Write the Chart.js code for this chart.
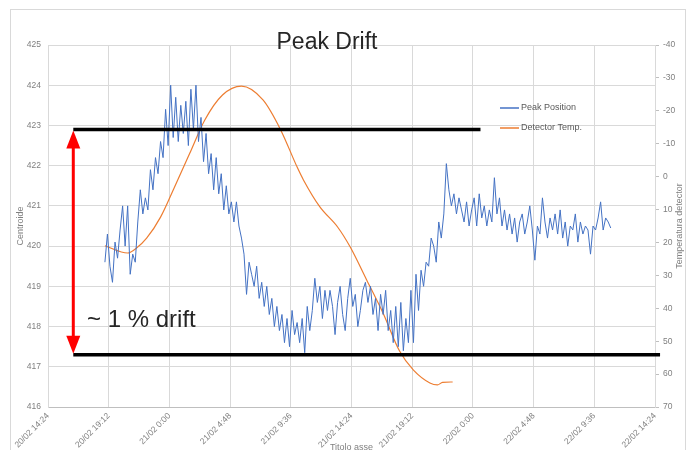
<!DOCTYPE html>
<html>
<head>
<meta charset="utf-8">
<script src="https://cdn.jsdelivr.net/npm/chart.js@4.4.1/dist/chart.umd.min.js"></script>
<style>
    body { margin: 0; background: #fff; }
    #wrap { width: 691px; height: 450px; }
</style>
</head>
<body>
<div id="wrap"><canvas id="chart" width="691" height="450"></canvas></div>
<script>
// Time axis is in hours from 20/02 0:00
const xTickHours = [14.4, 19.2, 24, 28.8, 33.6, 38.4, 43.2, 48, 52.8, 57.6, 62.4];
const leftTicks = [416, 417, 418, 419, 420, 421, 422, 423, 424, 425];
const rightTicks = [-40, -30, -20, -10, 0, 10, 20, 30, 40, 50, 60, 70];

// Peak position, one reading every 12 minutes from 20/02 18:54
const peakStartHour = 18.9;
const peakStepHours = 0.2;
const peakValues = [
    419.6, 420.3, 419.5, 419.1, 420.1, 419.7, 420.4, 421.0, 420.0, 421.0,
    419.3, 419.8, 419.6, 420.6, 421.4, 420.8, 421.2, 420.9, 421.9, 421.4,
    422.2, 421.8, 422.6, 422.2, 423.4, 422.5, 424.0, 422.7, 423.7, 422.6,
    423.5, 422.8, 423.6, 422.5, 423.9, 422.9, 424.0, 422.6, 423.2, 422.1,
    422.8, 421.8, 422.3, 421.4, 422.2, 421.3, 421.8, 420.9, 421.5, 420.8,
    421.1, 420.6, 421.1, 420.5, 420.2, 419.8, 418.8, 419.6, 419.3, 419.0,
    419.5, 418.7, 419.1, 418.5, 419.0, 418.3, 418.7, 418.0, 418.5, 417.9,
    418.3, 417.6, 418.2, 417.5, 418.4, 417.8, 418.1, 417.6, 418.2, 417.35,
    418.5, 417.9, 418.4, 419.2, 418.6, 419.0, 418.2, 418.9, 418.4, 418.9,
    418.5, 417.8, 418.6, 419.0, 418.3, 417.9, 418.7, 419.2, 418.5, 418.8,
    418.0, 418.4, 418.9, 419.1, 418.6, 419.0, 418.3, 418.7, 417.9, 418.8,
    418.3, 418.9, 417.9, 418.4, 417.6, 418.5, 417.5, 418.6, 417.4, 418.2,
    417.6, 418.9, 417.6, 419.3, 418.4, 419.4, 419.0, 419.6, 419.5, 420.2,
    420.0, 419.6, 420.6, 420.2, 420.8, 422.05, 421.4, 421.0, 421.3, 420.8,
    421.2, 420.9, 420.6, 421.1, 420.5, 420.9, 421.2, 420.5, 421.3, 420.7,
    421.0, 420.5, 420.9, 420.6, 421.7, 420.8, 421.2, 420.5, 420.9, 420.4,
    420.8, 420.3, 420.7, 420.1, 420.6, 420.8, 420.3, 420.6, 421.0, 420.4,
    419.65, 420.5, 420.3, 421.2, 420.6, 420.2, 420.7, 420.4, 420.8, 420.3,
    420.9, 420.2, 420.6, 420.0, 420.5, 420.4, 420.8, 420.1, 420.6, 420.3,
    420.5, 420.4, 419.8, 420.5, 420.4, 420.7, 421.1, 420.4, 420.7, 420.6,
    420.45
];

// Detector temperature (right axis)
const tempHours = [18.9, 20.7, 21.4, 22.2, 23.3, 24.4, 25.6, 26.8, 28.2, 29.7, 31.4, 32.8, 34.1,
    34.6, 35.9, 37.3, 38.3, 39.6, 40.9, 42.2, 43.3, 44.6, 45.2, 45.6, 46.4];
const tempValues = [21, 23.2, 21.7, 18.7, 12.3, 3.2, -7, -17.2, -24.8, -27.5, -23.3, -14.2, -2.9,
    1.0, 9.2, 15.3, 21.4, 31.4, 41.5, 53.0, 58.8, 62.7, 63.3, 62.5, 62.4];

// Drift markers drawn over the chart
const driftRange = [417.3, 422.9];
const driftStartHour = 16.4;
const driftTopEndHour = 48.6;
const driftBottomEndHour = 62.8;

const axisColor = '#7f7f7f';
const axisFont = { family: 'Liberation Sans', size: 8.5 };

function formatHour(v) {
    const dayOffset = Math.floor(v / 24 + 1e-6);
    const mins = Math.round((v - dayOffset * 24) * 60);
    const h = Math.floor(mins / 60);
    const m = mins % 60;
    return (20 + dayOffset) + '/02 ' + h + ':' + (m < 10 ? '0' + m : m);
}

const peakData = peakValues.map((v, i) => ({ x: peakStartHour + i * peakStepHours, y: v }));
const tempData = tempValues.map((v, i) => ({ x: tempHours[i], y: v }));

const decorations = {
    id: 'decorations',
    beforeDraw(chart) {
        const ctx = chart.ctx;
        ctx.save();
        ctx.fillStyle = '#fff';
        ctx.fillRect(0, 0, chart.width, chart.height);
        ctx.strokeStyle = '#d9d9d9';
        ctx.lineWidth = 1;
        ctx.strokeRect(10.5, 9.5, 675, 460);
        ctx.restore();
    },
    afterDraw(chart) {
        const { ctx, scales } = chart;
        const area = chart.chartArea;
        ctx.save();

        // Title
        ctx.fillStyle = '#262626';
        ctx.font = '23px "Liberation Sans"';
        ctx.textAlign = 'center';
        ctx.textBaseline = 'alphabetic';
        ctx.fillText('Peak Drift', 327, 49);

        // Right axis title, reads bottom to top like the left one
        ctx.save();
        ctx.translate(680, (area.top + area.bottom) / 2);
        ctx.rotate(-Math.PI / 2);
        ctx.font = '9px "Liberation Sans"';
        ctx.fillStyle = axisColor;
        ctx.textBaseline = 'middle';
        ctx.fillText('Temperatura detector', 0, 0);
        ctx.restore();

        // Legend
        ctx.font = '9px "Liberation Sans"';
        ctx.textAlign = 'left';
        ctx.textBaseline = 'middle';
        chart.data.datasets.forEach((ds, i) => {
            const ly = 108 + i * 20;
            ctx.strokeStyle = ds.borderColor;
            ctx.lineWidth = 1.5;
            ctx.beginPath();
            ctx.moveTo(500, ly);
            ctx.lineTo(519, ly);
            ctx.stroke();
            ctx.fillStyle = '#595959';
            ctx.fillText(ds.label, 521, ly);
        });

        // Drift lines
        const x0 = scales.x.getPixelForValue(driftStartHour);
        const yTop = scales.y.getPixelForValue(driftRange[1]);
        const yBot = scales.y.getPixelForValue(driftRange[0]);
        ctx.strokeStyle = '#000';
        ctx.lineWidth = 3.5;
        ctx.beginPath();
        ctx.moveTo(x0, yTop);
        ctx.lineTo(scales.x.getPixelForValue(driftTopEndHour), yTop);
        ctx.moveTo(x0, yBot);
        ctx.lineTo(scales.x.getPixelForValue(driftBottomEndHour), yBot);
        ctx.stroke();

        // Red double arrow
        const head = 18;
        ctx.strokeStyle = '#ff0000';
        ctx.fillStyle = '#ff0000';
        ctx.lineWidth = 3;
        ctx.beginPath();
        ctx.moveTo(x0, yTop + head);
        ctx.lineTo(x0, yBot - head);
        ctx.stroke();
        ctx.beginPath();
        ctx.moveTo(x0, yTop + 1);
        ctx.lineTo(x0 - 7, yTop + head + 1);
        ctx.lineTo(x0 + 7, yTop + head + 1);
        ctx.closePath();
        ctx.fill();
        ctx.beginPath();
        ctx.moveTo(x0, yBot - 1);
        ctx.lineTo(x0 - 7, yBot - head - 1);
        ctx.lineTo(x0 + 7, yBot - head - 1);
        ctx.closePath();
        ctx.fill();

        // Drift label
        ctx.fillStyle = '#262626';
        ctx.font = '24px "Liberation Sans"';
        ctx.textAlign = 'left';
        ctx.textBaseline = 'alphabetic';
        ctx.fillText('~ 1 % drift', 87, 327);

        ctx.restore();
    }
};

new Chart(document.getElementById('chart'), {
    type: 'line',
    data: {
        datasets: [{
            label: 'Peak Position',
            data: peakData,
            yAxisID: 'y',
            borderColor: '#4472c4',
            borderWidth: 1,
            pointRadius: 0,
            tension: 0
        }, {
            label: 'Detector Temp.',
            data: tempData,
            yAxisID: 'y2',
            borderColor: '#ed7d31',
            borderWidth: 1.2,
            pointRadius: 0,
            cubicInterpolationMode: 'monotone'
        }]
    },
    options: {
        responsive: false,
        animation: false,
        layout: { padding: { top: 45, left: 0, right: 0, bottom: 0 } },
        plugins: {
            legend: { display: false },
            tooltip: { enabled: false }
        },
        scales: {
            x: {
                type: 'linear',
                min: xTickHours[0],
                max: xTickHours[xTickHours.length - 1],
                afterBuildTicks: s => { s.ticks = xTickHours.map(v => ({ value: v })); },
                afterFit: s => { s.height = 43; },
                grid: { color: '#d9d9d9', drawTicks: false },
                border: { color: '#bfbfbf' },
                ticks: {
                    minRotation: 45,
                    maxRotation: 45,
                    padding: 4,
                    color: axisColor,
                    font: axisFont,
                    callback: v => formatHour(v)
                },
                title: {
                    display: true,
                    text: 'Titolo asse',
                    color: axisColor,
                    font: { family: 'Liberation Sans', size: 9 },
                    padding: { top: 0, bottom: -3 }
                }
            },
            y: {
                position: 'left',
                min: leftTicks[0],
                max: leftTicks[leftTicks.length - 1],
                afterBuildTicks: s => { s.ticks = leftTicks.map(v => ({ value: v })); },
                afterFit: s => { s.width = 48; },
                grid: { color: '#d9d9d9', drawTicks: false },
                border: { color: '#d9d9d9' },
                ticks: { padding: 7, color: axisColor, font: axisFont },
                title: {
                    display: true,
                    text: 'Centroide',
                    color: axisColor,
                    font: { family: 'Liberation Sans', size: 9 },
                    padding: { top: 15, bottom: 0 }
                }
            },
            y2: {
                position: 'right',
                reverse: true,
                min: rightTicks[0],
                max: rightTicks[rightTicks.length - 1],
                afterBuildTicks: s => { s.ticks = rightTicks.map(v => ({ value: v })); },
                afterFit: s => { s.width = 36; },
                grid: { drawOnChartArea: false, tickLength: 4, color: '#bfbfbf' },
                border: { color: '#d9d9d9' },
                ticks: { padding: 4, color: axisColor, font: axisFont }
            }
        }
    },
    plugins: [decorations]
});
</script>
</body>
</html>
